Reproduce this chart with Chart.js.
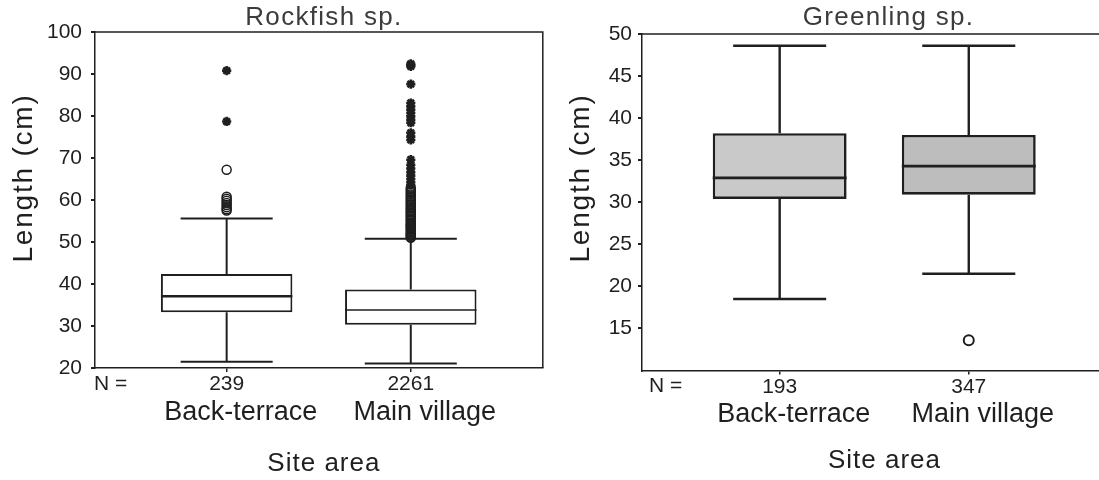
<!DOCTYPE html>
<html>
<head>
<meta charset="utf-8">
<title>Fish length by site area</title>
<script src="https://cdn.jsdelivr.net/npm/chart.js@4.4.1/dist/chart.umd.min.js"></script>
<style>
  html, body { margin: 0; padding: 0; background: #ffffff; overflow: hidden; width: 1099px; height: 480px; }
  #wrap { position: relative; width: 1099px; height: 480px; overflow: hidden; }
  #rock { position: absolute; left: 0; top: 0; }
  #green { position: absolute; left: 550px; top: 0; }
</style>
</head>
<body>
<div id="wrap">
  <canvas id="rock" width="550" height="480"></canvas>
  <canvas id="green" width="565" height="480"></canvas>
</div>
<script>
// ---- data -------------------------------------------------------------
const categories = ['Back-terrace', 'Main village'];

// Rockfish sp. (length, cm)
const rockN = [239, 2261];
const rockLow = [21.5, 21.1];
const rockQ1 = [33.3, 30.3];
const rockMedian = [37.1, 33.8];
const rockQ3 = [42.4, 38.7];
const rockHigh = [55.6, 50.8];
const rockOutliersBack = [57.5, 57.8, 58.3, 58.8, 59.3, 59.8, 60.3, 60.8, 67.2];
const rockExtremesBack = [78.7, 90.8];
const rockOutliersMain = [51.0, 51.2, 51.5, 51.8, 52.0, 52.3, 52.6, 52.9, 53.2, 53.5,
  53.8, 54.0, 54.3, 54.6, 55.0, 55.3, 55.6, 56.0, 56.3, 56.6, 57.0, 57.3, 57.6, 58.0,
  58.3, 58.7, 59.0, 59.4, 59.8, 60.1, 60.5, 60.9, 61.3, 61.7, 62.1, 62.5, 62.9];
const rockExtremesMain = [63.6, 64.3, 65.0, 65.8, 66.6, 67.5, 68.4, 69.6, 74.3, 75.1,
  76.0, 78.4, 79.1, 79.9, 80.7, 81.5, 82.3, 83.1, 87.6, 91.8, 92.1, 92.4];
const rockTicks = [20, 30, 40, 50, 60, 70, 80, 90, 100];

// Greenling sp. (length, cm)
const greenN = [193, 347];
const greenLow = [18.5, 21.5];
const greenQ1 = [30.4, 30.9];
const greenMedian = [32.9, 34.3];
const greenQ3 = [38.2, 38.0];
const greenHigh = [48.6, 48.6];
const greenOutliersBack = [];
const greenOutliersMain = [13.6];
const greenTicks = [15, 20, 25, 30, 35, 40, 45, 50];

// ---- styling ------------------------------------------------------------
const INK = '#1f1f1f';
const FONT = "'Liberation Sans', Arial, Helvetica, sans-serif";
Chart.defaults.font.family = FONT;
Chart.defaults.color = INK;

function drawText(ctx, str, x, y, size, color, align, spacing, rotate) {
  ctx.save();
  ctx.font = size + 'px ' + FONT;
  ctx.fillStyle = color;
  ctx.textAlign = align;
  ctx.textBaseline = 'middle';
  if ('letterSpacing' in ctx) ctx.letterSpacing = spacing + 'px';
  ctx.translate(x, y);
  if (rotate) ctx.rotate(rotate);
  ctx.fillText(str, 0, 0);
  ctx.restore();
}

// Frame on the top/right edges plus panel title, y title, "N =" and x title
const panelText = {
  id: 'panelText',
  beforeDatasetsDraw(chart, args, o) {
    const { ctx, chartArea: a } = chart;
    ctx.save();
    ctx.strokeStyle = INK;
    ctx.lineWidth = o.frameWidth;
    ctx.beginPath();
    ctx.moveTo(a.left, a.top);
    ctx.lineTo(a.right, a.top);
    ctx.lineTo(a.right, a.bottom);
    ctx.stroke();
    ctx.restore();
  },
  afterDraw(chart, args, o) {
    const { ctx, chartArea: a } = chart;
    const cx = (a.left + a.right) / 2;
    drawText(ctx, o.title, cx + o.titleDx, o.titleY, 26, '#3c3c3c', 'center', 1.3, 0);
    drawText(ctx, 'Length (cm)', o.yTitleX, o.yTitleY, 28, INK, 'center', 1.8, -Math.PI / 2);
    drawText(ctx, 'N =', a.left + o.nDx, a.bottom + 16, 21, INK, 'left', 0, 0);
    drawText(ctx, 'Site area', cx + o.xTitleDx, o.xTitleY, 26, INK, 'center', 1, 0);
  }
};

function fixedTicks(values) {
  return (scale) => { scale.ticks = values.map(v => ({ value: v })); };
}

function boxPanel(canvasId, s) {
  const datasets = [];
  // boxes: floating bars from Q1 to Q3
  datasets.push({
    type: 'bar',
    order: 4,
    data: s.q1.map((q, i) => ({ x: i, y: [q, s.q3[i]] })),
    backgroundColor: s.boxFill,
    borderColor: INK,
    borderWidth: s.boxBorder,
    borderSkipped: false,
    barPercentage: s.boxHalf * 2,
    categoryPercentage: 1,
    inflateAmount: 0
  });
  s.q1.forEach((_, i) => {
    const gap = { x: i, y: null };
    // whiskers and caps
    datasets.push({
      type: 'line',
      order: 3,
      data: [
        { x: i, y: s.q3[i] }, { x: i, y: s.high[i] }, gap,
        { x: i - s.capHalf, y: s.high[i] }, { x: i + s.capHalf, y: s.high[i] }, gap,
        { x: i, y: s.q1[i] }, { x: i, y: s.low[i] }, gap,
        { x: i - s.capHalf, y: s.low[i] }, { x: i + s.capHalf, y: s.low[i] }
      ],
      borderColor: INK,
      borderWidth: s.whiskerWidth,
      pointRadius: 0,
      spanGaps: false,
      fill: false,
      tension: 0
    });
    // median
    datasets.push({
      type: 'line',
      order: 2,
      data: [{ x: i - s.boxHalf, y: s.median[i] }, { x: i + s.boxHalf, y: s.median[i] }],
      borderColor: INK,
      borderWidth: s.medianWidth[i],
      pointRadius: 0,
      fill: false
    });
  });
  // outliers (circles) and extremes (stars)
  s.outliers.forEach((vals, i) => {
    if (!vals.length) return;
    datasets.push({
      type: 'scatter',
      order: 1,
      data: vals.map(v => ({ x: i, y: v })),
      pointStyle: 'circle',
      pointRadius: s.circleRadius,
      pointBorderWidth: s.circleBorder,
      pointBorderColor: INK,
      pointBackgroundColor: 'rgba(0,0,0,0)'
    });
  });
  s.extremes.forEach((vals, i) => {
    if (!vals.length) return;
    datasets.push({
      type: 'scatter',
      order: 0,
      data: vals.map(v => ({ x: i, y: v })),
      pointStyle: 'star',
      pointRadius: 4.6,
      pointBorderWidth: 2.6,
      pointBorderColor: INK,
      pointBackgroundColor: INK
    });
  });

  const xRange = { type: 'linear', min: s.xMin, max: s.xMax, bounds: 'data', offset: false };

  return new Chart(document.getElementById(canvasId), {
    type: 'bar',
    data: { datasets },
    options: {
      responsive: false,
      animation: false,
      events: [],
      layout: { padding: s.padding },
      plugins: {
        legend: { display: false },
        tooltip: { enabled: false },
        panelText: s.text
      },
      scales: {
        x: Object.assign({}, xRange, {
          position: 'bottom',
          weight: 1,
          afterBuildTicks: fixedTicks(categories.map((_, i) => i)),
          afterFit: (sc) => { sc.height = 26; },
          grid: { display: true, drawOnChartArea: false, drawTicks: true, tickLength: 4, offset: false, color: INK, lineWidth: 1.5 },
          border: { display: true, color: INK, width: 1.5 },
          ticks: {
            callback: (v, i) => String(s.n[i]),
            font: { size: 21 }, color: INK, padding: 0, autoSkip: false, maxRotation: 0
          }
        }),
        xName: Object.assign({}, xRange, {
          position: 'bottom',
          weight: 2,
          afterBuildTicks: fixedTicks(categories.map((_, i) => i)),
          afterFit: (sc) => { sc.height = s.nameAxisHeight; },
          grid: { display: false, drawTicks: false, offset: false },
          border: { display: false },
          ticks: {
            callback: (v, i) => categories[i],
            font: { size: 27 }, color: INK, padding: 2, labelOffset: 14, autoSkip: false, maxRotation: 0
          }
        }),
        y: {
          type: 'linear',
          position: 'left',
          min: s.yMin,
          max: s.yMax,
          bounds: 'data',
          afterBuildTicks: fixedTicks(s.ticks),
          afterFit: (sc) => { sc.width = s.yWidth; },
          grid: { display: true, drawOnChartArea: false, drawTicks: true, tickLength: 4, color: INK, lineWidth: 2 },
          border: { display: true, color: INK, width: 1.5 },
          ticks: { font: { size: 21 }, color: INK, padding: s.yPad, autoSkip: false }
        }
      }
    },
    plugins: [panelText]
  });
}

boxPanel('rock', {
  n: rockN, low: rockLow, q1: rockQ1, median: rockMedian, q3: rockQ3, high: rockHigh,
  outliers: [rockOutliersBack, rockOutliersMain],
  extremes: [rockExtremesBack, rockExtremesMain],
  ticks: rockTicks, yMin: 20, yMax: 100,
  xMin: -0.715, xMax: 1.717,
  boxHalf: 0.357, capHalf: 0.25,
  boxFill: ['#ffffff', '#ffffff'], boxBorder: 2, whiskerWidth: 2, medianWidth: [2.4, 1.6],
  circleRadius: 4.5, circleBorder: 1.5,
  padding: { left: 0, right: 5, top: 32, bottom: 0 },
  yWidth: 95, yPad: 9, nameAxisHeight: 86,
  text: { title: 'Rockfish sp.', titleDx: 5, titleY: 17.5, yTitleX: 24, yTitleY: 178,
          nDx: -1, xTitleDx: 5, xTitleY: 464, frameWidth: 1.5 }
});

boxPanel('green', {
  n: greenN, low: greenLow, q1: greenQ1, median: greenMedian, q3: greenQ3, high: greenHigh,
  outliers: [greenOutliersBack, greenOutliersMain],
  extremes: [[], []],
  ticks: greenTicks, yMin: 10, yMax: 50,
  xMin: -0.728, xMax: 1.731,
  boxHalf: 0.354, capHalf: 0.246,
  boxFill: ['#c9c9c9', '#bdbdbd'], boxBorder: 2.6, whiskerWidth: 2.4, medianWidth: [2.6, 2.8],
  circleRadius: 5, circleBorder: 2,
  padding: { left: 0, right: 8, top: 34, bottom: 0 },
  yWidth: 92, yPad: 6, nameAxisHeight: 83.5,
  text: { title: 'Greenling sp.', titleDx: 14, titleY: 17.5, yTitleX: 31.5, yTitleY: 178,
          nDx: 7, xTitleDx: 10, xTitleY: 461, frameWidth: 1.5 }
});
</script>
</body>
</html>
